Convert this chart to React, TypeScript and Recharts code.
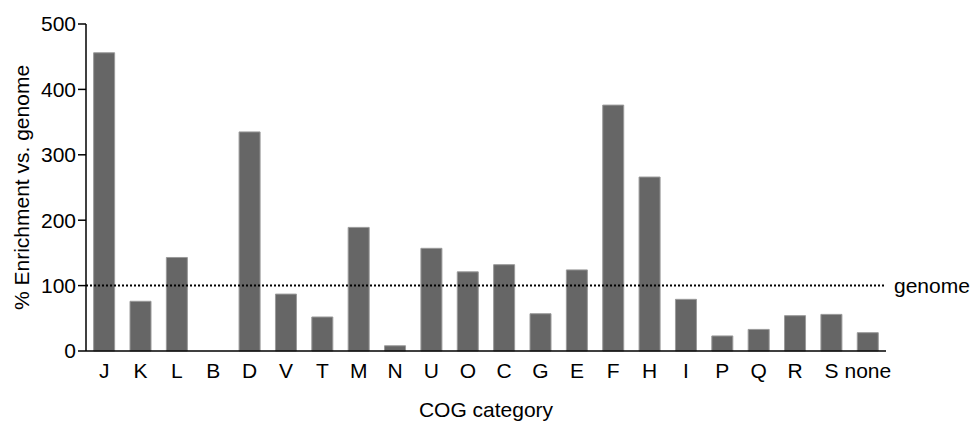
import React from "react";
import { BarChart, Bar, XAxis, YAxis, ReferenceLine } from "recharts";

const categories = ["J","K","L","B","D","V","T","M","N","U","O","C","G","E","F","H","I","P","Q","R","S","none"];
const enrichment = [456,76,143,0,335,87,52,189,8,157,121,132,57,124,376,266,79,23,33,54,56,28];
const yTicks = [0,100,200,300,400,500];
const genomeLevel = 100;

const data = categories.map((c, i) => ({ cat: c, value: enrichment[i] }));

const FONT = "'Liberation Sans', Arial, Helvetica, sans-serif";
const FS = 21;

export default function App() {
  return (
    <div style={{ position: "absolute", left: 0, top: 0, width: 972, height: 421, background: "#fff" }}>
      <BarChart
        width={972}
        height={421}
        data={data}
        margin={{ top: 24, right: 86, bottom: 0, left: 0 }}
        barCategoryGap="21%"
      >
        <XAxis
          dataKey="cat"
          interval={0}
          tickLine={false}
          tickSize={6}
          tickMargin={6}
          height={70}
          axisLine={{ stroke: "#000", strokeWidth: 1.5 }}
          tick={{ fill: "#000", fontSize: FS, fontFamily: FONT }}
          label={{ value: "COG category", position: "insideBottom", offset: 4, fill: "#000", fontSize: FS, fontFamily: FONT }}
        />
        <YAxis
          domain={[0, 500]}
          ticks={yTicks}
          width={86}
          tickSize={8}
          tickMargin={2}
          interval={0}
          axisLine={{ stroke: "#000", strokeWidth: 1.5 }}
          tickLine={{ stroke: "#000", strokeWidth: 1.5 }}
          tick={{ fill: "#000", fontSize: FS, fontFamily: FONT }}
          label={{ value: "% Enrichment vs. genome", angle: -90, position: "insideLeft", offset: 22, fill: "#000", fontSize: FS, fontFamily: FONT, style: { textAnchor: "middle" } }}
        />
        <ReferenceLine
          y={genomeLevel}
          stroke="#000"
          strokeWidth={2}
          strokeDasharray="2 2"
          label={{ value: "genome", position: "right", offset: 8, fill: "#000", fontSize: FS, fontFamily: FONT }}
        />
        <Bar dataKey="value" fill="#666666" stroke="#9a9a9a" strokeWidth={1} isAnimationActive={false} />
      </BarChart>
    </div>
  );
}
